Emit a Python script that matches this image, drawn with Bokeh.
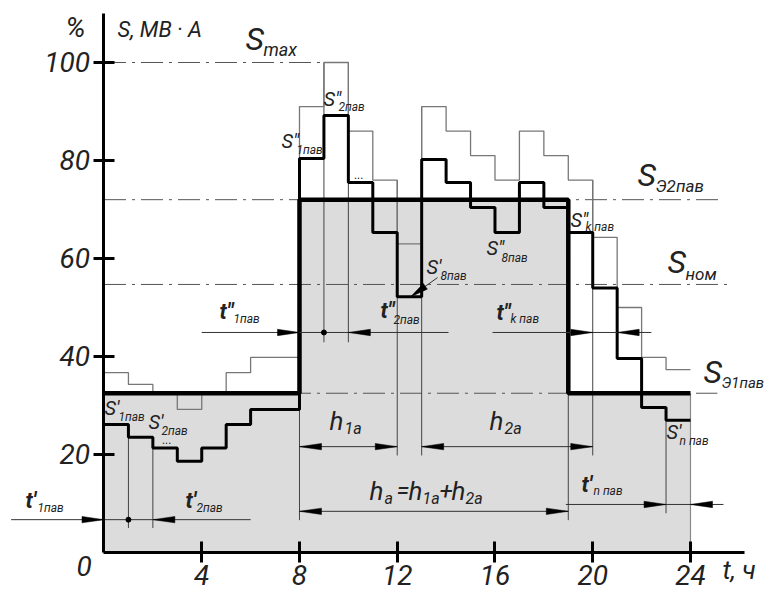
import numpy as np
from bokeh.plotting import figure
from bokeh.models import LinearAxis, FixedTicker, Range1d
from bokeh.core.properties import value
from bokeh.embed import file_html
from bokeh.resources import INLINE

# ---------------- data ----------------
hours = [0, 1, 2, 3, 4, 5, 6, 7, 8, 9, 10, 11, 12, 13, 14, 15, 16, 17, 18, 19, 20, 21, 22, 23, 24]
# S_э (planned / allowed load), % per hour
s_plan = [32.5, 32.5, 32.5, 32.5, 32.5, 32.5, 32.5, 32.5,
          72.0, 72.0, 72.0, 72.0, 72.0, 72.0, 72.0, 72.0, 72.0, 72.0, 72.0,
          32.5, 32.5, 32.5, 32.5, 32.5]
# thin (upper) load curve
s_orig = [36.7, 34.3, 32.5, 29.2, 32.5, 36.7, 39.8, 39.8,
          91.0, 100.0, 86.0, 76.0, 63.0, 91.0, 86.0, 81.0, 76.0, 86.0, 81.0,
          76.0, 64.3, 50.0, 39.8, 37.3]
# thick stepped load curve S', S''
s_act = [26.1, 23.5, 21.3, 18.6, 21.3, 26.1, 29.2, 29.2,
         80.4, 89.2, 75.5, 65.3, 52.2, 80.2, 75.5, 70.4, 65.3, 75.5, 70.4,
         65.3, 54.0, 39.6, 29.6, 27.0]
# reference levels
s_max = 100.0
s_e2 = 72.0
s_nom = 54.7
s_e1 = 32.5
y_ticks = [20, 40, 60, 80, 100]
x_ticks = [4, 8, 12, 16, 20, 24]

# ---------------- geometry ----------------
W, H = 765, 593
X0, X1 = -4.235, 27.07
Y0, Y1 = -8.37, 112.65
kx = W / (X1 - X0)
ky = H / (Y1 - Y0)


def dx(xp):
    return X0 + xp / kx


def dy(yp):
    return Y1 - yp / ky


FONT = "Roboto"

p = figure(width=W, height=H, x_range=Range1d(X0, X1), y_range=Range1d(Y0, Y1),
           x_axis_type=None, y_axis_type=None, toolbar_location=None,
           output_backend="svg", min_border=0)
p.outline_line_color = None
p.background_fill_color = "white"

# filled area under S_э
poly_x, poly_y = [hours[0]], [0.0]
for i, v in enumerate(s_plan):
    poly_x += [hours[i], hours[i + 1]]
    poly_y += [v, v]
poly_x.append(hours[-1])
poly_y.append(0.0)
p.patch(poly_x, poly_y, fill_color="#dcdcdc", line_color=None)

# reference dash-dot lines
dash = "22 6 3 6"
p.segment(x0=[0, 0, 0, 0], y0=[s_max, s_e2, s_nom, s_e1],
          x1=[9, 25.3, 25.5, 25.1], y1=[s_max, s_e2, s_nom, s_e1],
          line_color="#555555", line_width=1, line_dash=dash)

# extension lines
ext_t = [1, 2, 8, 9, 10, 12, 13, 19, 20, 23]
ext_top = [23.5, 21.3, 32.5, 100, 100, 76, 91, 32.5, 76, 27.0]
ext_bot = [5.0, 5.0, 6.6, 42.9, 42.9, 19.8, 19.8, 6.6, 19.8, 8.0]
p.segment(x0=ext_t, y0=ext_top, x1=ext_t, y1=ext_bot, line_color="#444444", line_width=1)
p.segment(x0=[24], y0=[s_e1], x1=[24], y1=[0], line_color="#888888", line_width=1.2)

# thin load curve
p.step(x=hours, y=s_orig + [s_orig[-1]], mode="after", line_color="#777777", line_width=1.3)
# stepped S' curve
p.step(x=hours, y=s_act + [s_act[-1]], mode="after", line_color="black", line_width=3)
# S_э thick
p.step(x=hours, y=s_plan + [s_plan[-1]], mode="after", line_color="black", line_width=4.5)

# dimension lines
dim_y = [6.7, 44.9, 44.9, 9.8, 21.6, 21.6, 8.4]
dim_a = [-3.8, 4.0, 15.9, 18.9, 8, 13, 8]
dim_b = [6.0, 14.1, 22.4, 25.35, 12, 20, 19]
p.segment(x0=dim_a, y0=dim_y, x1=dim_b, y1=dim_y, line_color="#333333", line_width=1)

# arrow heads (tip t, level, direction)
head_t = [0, 2, 8, 10, 20, 21, 23, 24, 8, 12, 13, 20, 8, 19]
head_y = [6.7, 6.7, 44.9, 44.9, 44.9, 44.9, 9.8, 9.8, 21.6, 21.6, 21.6, 21.6, 8.4, 8.4]
head_d = [1, -1, 1, -1, 1, -1, 1, -1, -1, 1, -1, 1, -1, 1]


def head(tx, ty, ux, uy, L=22.0, hw=3.2):
    n = np.hypot(ux, uy)
    ux, uy = ux / n, uy / n
    bx, by = -L * ux, -L * uy
    nx, ny = -uy * hw, ux * hw
    px_ = [tx, tx + (bx + nx) / kx, tx + (bx - nx) / kx]
    py_ = [ty, ty + (by + ny) / ky, ty + (by - ny) / ky]
    return px_, py_


hx, hy = [], []
for t, yv, d in zip(head_t, head_y, head_d):
    a, b = head(t, yv, d, 0)
    hx.append(a)
    hy.append(b)

# leader to S'_8пав corner
lead_from = (13.65, 56.1)
lead_to = (12.55, s_act[12])
p.segment(x0=[lead_from[0]], y0=[lead_from[1]], x1=[lead_to[0]], y1=[lead_to[1]],
          line_color="#333333", line_width=1)
a, b = head(lead_to[0], lead_to[1], (lead_to[0] - lead_from[0]) * kx,
            (lead_to[1] - lead_from[1]) * ky, L=18, hw=3.5)
hx.append(a)
hy.append(b)
p.patches(hx, hy, fill_color="black", line_color="black", line_width=0.5)

# dots
p.scatter(x=[1, 9], y=[6.7, 44.9], size=5, color="black")

# axes
yax = LinearAxis(fixed_location=0, ticker=FixedTicker(ticks=y_ticks), bounds=(0, 110))
xax = LinearAxis(fixed_location=0, ticker=FixedTicker(ticks=x_ticks), bounds=(0, 26.2))
for ax in (yax, xax):
    ax.axis_line_width = 3
    ax.axis_line_color = "black"
    ax.major_tick_line_width = 3
    ax.major_tick_line_color = "black"
    ax.major_tick_in = 11
    ax.major_tick_out = 10
    ax.minor_tick_line_color = None
    ax.major_label_text_font = FONT
    ax.major_label_text_font_style = "italic"
    ax.major_label_text_font_size = "28px"
    ax.major_label_text_color = "#222222"
yax.major_label_standoff = 4
xax.major_label_standoff = 3
p.add_layout(yax, "left")
p.add_layout(xax, "below")

# ---------------- labels ----------------
# (text, x_px, baseline_px, size, style)
labels = [
    ("%", 65, 35, 28, "italic"),
    ("S, МВ · А", 117, 35, 22, "italic"),
    ("0", 76, 573, 28, "italic"),
    ("t, ч", 722, 577, 26, "italic"),
    ("S", 245, 47, 32, "italic"), ("max", 263, 54, 18, "italic"),
    ("S″", 281, 146, 20, "italic"), ("1пав", 296, 153, 12, "italic"),
    ("S″", 323, 104, 20, "italic"), ("2пав", 338, 110, 12, "italic"),
    ("...", 354, 177, 12, "italic"),
    ("S′", 426, 272, 20, "italic"), ("8пав", 440, 279, 12, "italic"),
    ("S″", 486, 253, 20, "italic"), ("8пав", 501, 261, 12, "italic"),
    ("S″", 570, 225, 20, "italic"), ("k пав", 585, 230, 12, "italic"),
    ("S", 637, 183, 32, "italic"), ("Э2пав", 655, 190, 17, "italic"),
    ("S", 667, 270, 32, "italic"), ("ном", 685, 278, 17, "italic"),
    ("S", 703, 380, 32, "italic"), ("Э1пав", 721, 387, 15, "italic"),
    ("S′", 104, 413, 20, "italic"), ("1пав", 118, 420, 12, "italic"),
    ("S′", 148, 427, 20, "italic"), ("2пав", 161, 434, 12, "italic"),
    ("...", 162, 442, 12, "italic"),
    ("S′", 666, 437, 20, "italic"), ("n пав", 679, 444, 12, "italic"),
    ("t′", 25, 506, 22, "bold italic"), ("1пав", 37, 511, 12, "italic"),
    ("t′", 185, 506, 22, "bold italic"), ("2пав", 196, 511, 12, "italic"),
    ("t″", 219, 317, 22, "bold italic"), ("1пав", 233, 322, 12, "italic"),
    ("t″", 380, 316, 22, "bold italic"), ("2пав", 393, 323, 12, "italic"),
    ("t″", 496, 318, 22, "bold italic"), ("k пав", 510, 322, 12, "italic"),
    ("t′", 581, 490, 22, "bold italic"), ("n пав", 593, 494, 12, "italic"),
    ("h", 329, 428, 26, "italic"), ("1a", 344, 432, 16, "italic"),
    ("h", 489, 428, 26, "italic"), ("2a", 504, 432, 16, "italic"),
    ("h", 369, 498, 26, "italic"), ("a", 384, 502, 16, "italic"),
    ("=", 396, 497, 24, "italic"), ("h", 408, 498, 26, "italic"), ("1a", 422, 502, 16, "italic"),
    ("+", 439, 497, 24, "italic"), ("h", 451, 498, 26, "italic"), ("2a", 465, 502, 16, "italic"),
]
groups = {}
for txt, xp, yp, sz, st in labels:
    # compensate the renderer's baseline offset (text drawn ~0.28 em low)
    groups.setdefault((sz, st), []).append((txt, dx(xp), dy(yp - 0.28 * sz)))
for (sz, st), items in groups.items():
    p.text(x=[i[1] for i in items], y=[i[2] for i in items], text=[i[0] for i in items],
           text_font=value(FONT), text_font_size=f"{sz}px", text_font_style=st,
           text_color="#222222", text_align="left", text_baseline="alphabetic")

open("out.html", "w").write(file_html(p, INLINE))
